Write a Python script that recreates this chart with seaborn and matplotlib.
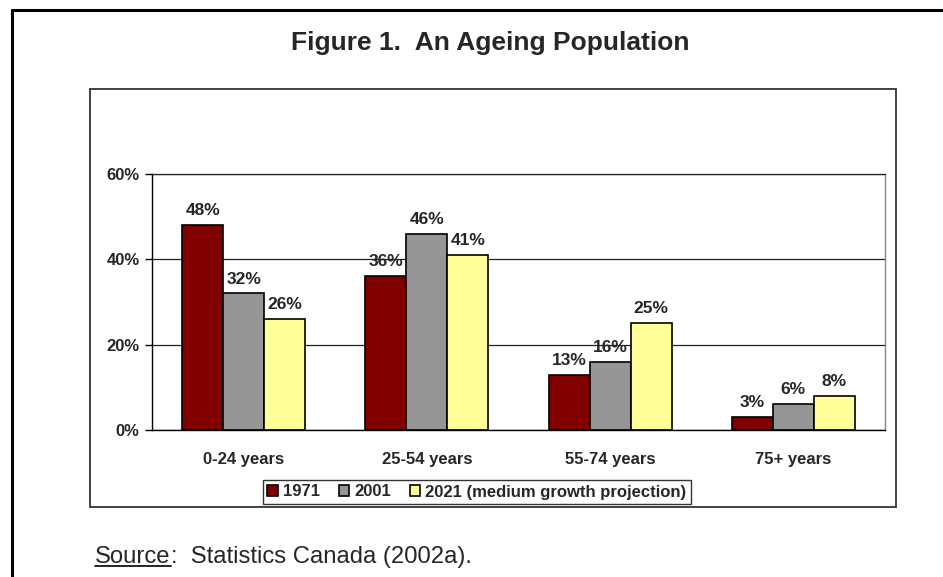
import pandas as pd
import seaborn as sns
import matplotlib.pyplot as plt
from matplotlib.lines import Line2D
from matplotlib.patches import Rectangle

# data
age_groups = ["0-24 years", "25-54 years", "55-74 years", "75+ years"]
years = ["1971", "2001", "2021 (medium growth projection)"]
share_1971 = [48, 36, 13, 3]
share_2001 = [32, 46, 16, 6]
share_2021 = [26, 41, 25, 8]
bar_colors = ["#800000", "#969696", "#FFFF99"]
y_ticks = [0, 20, 40, 60]

df = pd.DataFrame({
    "age": age_groups * 3,
    "year": [years[0]] * 4 + [years[1]] * 4 + [years[2]] * 4,
    "share": share_1971 + share_2001 + share_2021,
})

sns.set_style("white")
plt.rcParams["font.family"] = ["Liberation Sans", "DejaVu Sans"]

fig = plt.figure(figsize=(9.43, 5.77), dpi=100)
ax = fig.add_axes([152 / 943, 1 - 430 / 577, (885 - 152) / 943, (430 - 174) / 577])

sns.barplot(data=df, x="age", y="share", hue="year", palette=bar_colors,
            width=0.67, gap=0, edgecolor="black", linewidth=1.2,
            saturation=1, ax=ax)

for cont in ax.containers:
    ax.bar_label(cont, fmt="%d%%", padding=5, fontsize=12.5, fontweight="bold")

ax.set_ylim(0, 60)
ax.set_xlim(-0.5, 3.5)
ax.set_yticks(y_ticks)
ax.set_yticklabels([f"{v}%" for v in y_ticks], fontsize=12, fontweight="bold")
ax.set_xticks(range(4))
ax.set_xticklabels(age_groups, fontsize=12, fontweight="bold")
ax.set_xticks([-0.5, 0.5, 1.5, 2.5, 3.5], minor=True)
ax.tick_params(axis="x", which="major", length=0, pad=16)
ax.tick_params(axis="x", which="minor", length=5, width=1, color="black", direction="out")
ax.tick_params(axis="y", length=5, width=1, color="black", direction="out", pad=4, left=True)
ax.set_xlabel("")
ax.set_ylabel("")
ax.yaxis.grid(True, color="#222222", linewidth=0.9)
ax.set_axisbelow(True)
for side in ["left", "bottom"]:
    ax.spines[side].set_color("black")
    ax.spines[side].set_linewidth(1)
ax.spines["top"].set_color("#222222")
ax.spines["top"].set_linewidth(0.9)
ax.spines["right"].set_color("#888888")
ax.spines["right"].set_linewidth(1)

handles, labels = ax.get_legend_handles_labels()
ax.get_legend().remove()
leg = ax.legend(handles, labels, loc="center", bbox_to_anchor=(477 / 943, 1 - 492 / 577),
                bbox_transform=fig.transFigure, ncol=3, frameon=True, fancybox=False,
                edgecolor="black", handlelength=0.65, handleheight=0.65, handletextpad=0.3,
                columnspacing=1.1, borderpad=0.25, borderaxespad=0,
                prop={"size": 12, "weight": "bold"})
leg.get_frame().set_linewidth(1)

# outer frame and chart-area box
fig.add_artist(Line2D([12 / 943, 12 / 943], [0, 1 - 10 / 577], color="black", linewidth=2.2))
fig.add_artist(Line2D([12 / 943, 1], [1 - 10 / 577, 1 - 10 / 577], color="black", linewidth=2.2))
fig.add_artist(Rectangle((90 / 943, 1 - 507 / 577), (896 - 90) / 943, (507 - 89) / 577,
                         transform=fig.transFigure, fill=False, edgecolor="#333333", linewidth=1.3))

fig.text(490 / 943, 1 - 43 / 577, "Figure 1.  An Ageing Population", ha="center", va="center",
         fontsize=19, fontweight="bold")

src = fig.text(95 / 943, 1 - 557 / 577, "Source", ha="left", va="center", fontsize=17.2)
fig.canvas.draw()
bb = src.get_window_extent().transformed(fig.transFigure.inverted())
fig.text(bb.x1, 1 - 557 / 577, ":  Statistics Canada (2002a).", ha="left", va="center", fontsize=17.2)
fig.add_artist(Line2D([bb.x0, bb.x1], [bb.y0 + 0.004, bb.y0 + 0.004], color="black", linewidth=1.2))

fig.savefig("out.png", dpi=100)
